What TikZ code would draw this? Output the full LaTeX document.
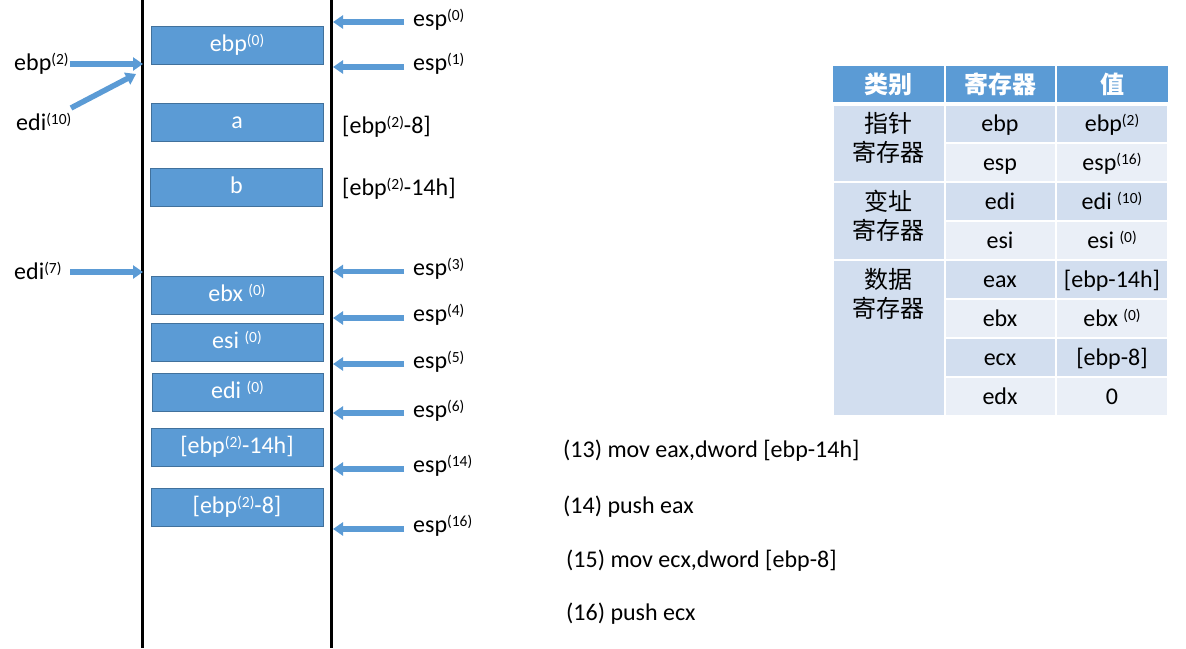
\documentclass[tikz,border=0pt]{standalone}
\usepackage{fontspec}
\setmainfont{Carlito}
\newfontfamily\cjk{Noto Sans CJK SC}
\usetikzlibrary{arrows.meta}
\newcommand\sps[1]{\raisebox{6pt}{\fontsize{15.5}{16}\selectfont #1}}
\definecolor{accent}{HTML}{5B9BD5}
\definecolor{accentdk}{HTML}{41719C}
\definecolor{rowA}{HTML}{D2DEEF}
\definecolor{rowB}{HTML}{EAEFF7}
\begin{document}
\begin{tikzpicture}[x=1pt,y=-1pt,
  txt/.style={font=\fontsize{24}{28}\selectfont, inner sep=0pt},
  stackbox/.style={draw=accentdk, line width=1pt, fill=accent, text=white,
    minimum width=172pt, minimum height=38pt, inner sep=0pt,
    text height=17pt, text depth=5pt, font=\fontsize{24}{28}\selectfont},
  lbl/.style={txt, anchor=base west},
  celltxt/.style={txt, text height=17pt, text depth=5pt},
  hdrtxt/.style={font=\cjk\bfseries\fontsize{24}{28}\selectfont, text=white, inner sep=0pt},
  cattxt/.style={font=\cjk\fontsize{24}{29}\selectfont, align=center, inner sep=0pt},
  blockarrow/.style={draw=accent, line width=5.5pt, -{Triangle[length=10pt,width=13pt]}},
  stackline/.style={line width=3pt}]
\useasboundingbox (0,0) rectangle (1186,648);
% stack walls
\coordinate (wlt) at (142.5,0); \coordinate (wlb) at (142.5,648);
\coordinate (wrt) at (331.5,0); \coordinate (wrb) at (331.5,648);
\draw[stackline] (wlt) -- (wlb);
\draw[stackline] (wrt) -- (wrb);
% stack boxes
\node[stackbox] (bebp) at (237,45.5) {ebp\sps{(0)}};
\node[stackbox] (ba) at (237,122) {a};
\node[stackbox] (bb) at (236.5,187.5) {b};
\node[stackbox] (bebx) at (237,295) {ebx \sps{(0)}};
\node[stackbox] (besi) at (237,342) {esi \sps{(0)}};
\node[stackbox, minimum width=171pt] (bedi) at (237.5,392.5) {edi \sps{(0)}};
\node[stackbox] (b14h) at (237,447.5) {[ebp\sps{(2)}-14h]};
\node[stackbox] (b8) at (237,507.5) {[ebp\sps{(2)}-8]};
% addresses
\node[lbl] (adr8) at (342,133) {[ebp\sps{(2)}-8]};
\node[lbl] (adr14) at (342,195) {[ebp\sps{(2)}-14h]};
% esp labels and arrows
\foreach \n/\ay/\ty in {0/22/26,1/67/70,3/271.5/275,4/318/321,5/364/368,6/413/417,14/469/472,16/529/532}{
  \node[lbl] (esp\n) at (413,\ty) {esp\sps{(\n)}};
  \coordinate (espt\n) at (404,\ay);
  \coordinate (esph\n) at (333,\ay);
  \draw[blockarrow] (espt\n) -- (esph\n);
}
% left labels and arrows
\node[lbl] (lebp) at (14,70) {ebp\sps{(2)}};
\node[lbl] (ledi10) at (16,130) {edi\sps{(10)}};
\node[lbl] (ledi7) at (14,279) {edi\sps{(7)}};
\coordinate (tebp) at (70,64); \coordinate (hebp) at (143,64);
\coordinate (tedi10) at (71,108); \coordinate (hedi10) at (136,74);
\coordinate (tedi7) at (70,272); \coordinate (hedi7) at (143,272);
\draw[blockarrow] (tebp) -- (hebp);
\draw[blockarrow] (tedi10) -- (hedi10);
\draw[blockarrow] (tedi7) -- (hedi7);
% table
\fill[accent] (833,66) rectangle (1168,104);
\draw[white, line width=2pt] (944.5,66) -- (944.5,104) (1056,66) -- (1056,104);
\foreach \i in {0,...,7}{
  \pgfmathsetmacro\ya{104+39*\i}
  \pgfmathsetmacro\yb{104+39*(\i+1)}
  \pgfmathtruncatemacro\odd{mod(\i,2)}
  \ifnum\odd=0
    \filldraw[fill=rowA, draw=white, line width=2pt] (944.5,\ya) rectangle (1056,\yb);
    \filldraw[fill=rowA, draw=white, line width=2pt] (1056,\ya) rectangle (1168,\yb);
  \else
    \filldraw[fill=rowB, draw=white, line width=2pt] (944.5,\ya) rectangle (1056,\yb);
    \filldraw[fill=rowB, draw=white, line width=2pt] (1056,\ya) rectangle (1168,\yb);
  \fi
}
\filldraw[fill=rowA, draw=white, line width=2pt] (833,104) rectangle (944.5,182);
\filldraw[fill=rowA, draw=white, line width=2pt] (833,182) rectangle (944.5,260);
\filldraw[fill=rowA, draw=white, line width=2pt] (833,260) rectangle (944.5,416);
\draw[white, line width=4pt] (833,104) -- (1168,104);
\node[hdrtxt] (h1) at (888.5,84) {类别};
\node[hdrtxt] (h2) at (1000,84) {寄存器};
\node[hdrtxt] (h3) at (1112,84) {值};
\node[cattxt] (c1) at (888.5,138) {指针\\寄存器};
\node[cattxt] (c2) at (888.5,216) {变址\\寄存器};
\node[cattxt] (c3) at (888.5,294) {数据\\寄存器};
\foreach \i/\r/\v [count=\k from 0] in {1/ebp/ebp\sps{(2)},2/esp/esp\sps{(16)},3/edi/edi \sps{(10)},4/esi/esi \sps{(0)},5/eax/[ebp-14h],6/ebx/ebx \sps{(0)},7/ecx/[ebp-8],8/edx/0}{
  \pgfmathsetmacro\yc{125+39*\k}
  \node[celltxt] (r\i) at (1000,\yc) {\r};
  \node[celltxt] (v\i) at (1112,\yc) {\v};
}
% code lines
\node[lbl] (code13) at (563,457) {(13) mov eax,dword [ebp-14h]};
\node[lbl] (code14) at (563,513) {(14) push eax};
\node[lbl] (code15) at (566,567) {(15) mov ecx,dword [ebp-8]};
\node[lbl] (code16) at (566,620) {(16) push ecx};
\end{tikzpicture}
\end{document}
